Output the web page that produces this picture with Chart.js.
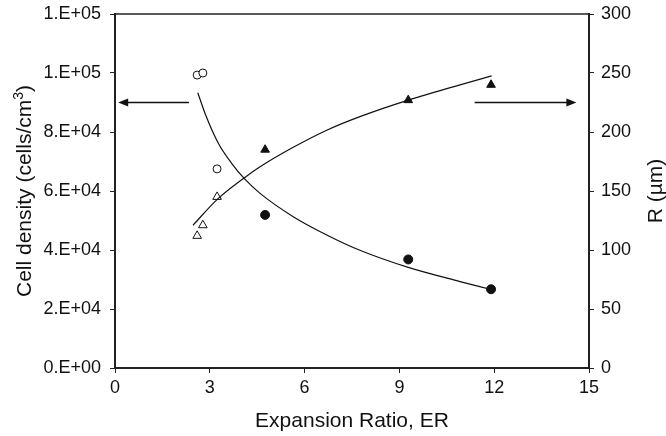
<!DOCTYPE html>
<html>
<head>
<meta charset="utf-8">
<script src="https://cdn.jsdelivr.net/npm/chart.js@4.4.0/dist/chart.umd.min.js"></script>
<style>
  html, body { margin: 0; padding: 0; background: #fff; }
  #wrap { width: 666px; height: 436px; }
</style>
</head>
<body>
<div id="wrap"><canvas id="erChart" width="666" height="436"></canvas></div>
<script>
// Expansion ratio (x) for the measured points
const erSmall = [2.6, 2.78, 3.23];
const erLarge = [4.75, 9.28, 11.9];

// Cell density (cells/cm3), left axis
const densitySmall = [99300, 100000, 67500];
const densityLarge = [51900, 36800, 26700];

// R (um), right axis
const radiusSmall = [112, 121, 145];
const radiusLarge = [185, 227, 240];

// trend curves
const densityFitEr = [2.62, 2.85, 3.27, 3.69, 4.11, 4.59, 5.64, 6.70, 7.75, 9.28, 10.92, 11.9];
const densityFit = [93300, 86300, 76200, 69400, 64000, 59200, 51300, 45100, 39900, 34100, 29300, 26600];
const radiusFitEr = [2.47, 3.22, 4.11, 4.59, 5.64, 6.70, 7.75, 9.28, 10.92, 11.92];
const radiusFit = [121, 142.5, 161.5, 170.5, 187, 201.5, 213, 227, 240, 247.5];

// tick labels
const xTickLabels = ["0", "3", "6", "9", "12", "15"];
const leftTickLabels = ["0.E+00", "2.E+04", "4.E+04", "6.E+04", "8.E+04", "1.E+05", "1.E+05"];
const rightTickLabels = ["0", "50", "100", "150", "200", "250", "300"];

const pairs = (xs, ys) => xs.map((x, i) => ({ x: x, y: ys[i] }));

const INK = "#111";
const AXIS = "#222";
const FAMILY = "'Liberation Sans', Arial, sans-serif";
const TICK_FONT = { family: FAMILY, size: 18 };
const TITLE_FONT = "21px " + FAMILY;
const SUP_FONT = "14px " + FAMILY;

// arrows pointing at the axis each series belongs to (data units)
const arrows = [
    { axis: "y", from: 2.34, to: 0.1, level: 90000 },
    { axis: "y1", from: 11.38, to: 14.6, level: 225 },
];

const decorPlugin = {
    id: "decor",
    afterDraw(chart) {
        const { ctx, chartArea, scales } = chart;
        ctx.save();

        // top frame line
        ctx.strokeStyle = AXIS;
        ctx.lineWidth = 1.5;
        ctx.beginPath();
        ctx.moveTo(chartArea.left, chartArea.top);
        ctx.lineTo(chartArea.right, chartArea.top);
        ctx.stroke();

        // arrows
        ctx.strokeStyle = INK;
        ctx.fillStyle = INK;
        ctx.lineWidth = 1.5;
        arrows.forEach(a => {
            const x0 = scales.x.getPixelForValue(a.from);
            const x1 = scales.x.getPixelForValue(a.to);
            const y = scales[a.axis].getPixelForValue(a.level);
            const dir = Math.sign(x1 - x0);
            ctx.beginPath();
            ctx.moveTo(x0, y);
            ctx.lineTo(x1 - dir * 8, y);
            ctx.stroke();
            ctx.beginPath();
            ctx.moveTo(x1, y);
            ctx.lineTo(x1 - dir * 10, y - 4);
            ctx.lineTo(x1 - dir * 10, y + 4);
            ctx.closePath();
            ctx.fill();
        });

        // axis titles
        ctx.fillStyle = INK;
        ctx.font = TITLE_FONT;
        ctx.textAlign = "center";
        ctx.textBaseline = "alphabetic";
        ctx.fillText("Expansion Ratio, ER", (chartArea.left + chartArea.right) / 2, 427);

        const midY = (chartArea.top + chartArea.bottom) / 2;

        // left title with superscript 3
        const main = "Cell density (cells/cm";
        ctx.font = TITLE_FONT;
        const wMain = ctx.measureText(main).width;
        const wClose = ctx.measureText(")").width;
        ctx.font = SUP_FONT;
        const wSup = ctx.measureText("3").width;
        const total = wMain + wSup + wClose;
        ctx.save();
        ctx.translate(31, midY);
        ctx.rotate(-Math.PI / 2);
        ctx.textAlign = "left";
        let sx = -total / 2;
        ctx.font = TITLE_FONT;
        ctx.fillText(main, sx, 0);
        sx += wMain;
        ctx.font = SUP_FONT;
        ctx.fillText("3", sx, -8);
        sx += wSup;
        ctx.font = TITLE_FONT;
        ctx.fillText(")", sx, 0);
        ctx.restore();

        // right title
        ctx.save();
        ctx.font = TITLE_FONT;
        ctx.translate(662, midY);
        ctx.rotate(-Math.PI / 2);
        ctx.textAlign = "center";
        ctx.fillText("R (\u00b5m)", 0, 0);
        ctx.restore();

        ctx.restore();
    }
};

const axisCommon = {
    border: { color: AXIS, width: 2 },
    grid: { drawOnChartArea: false, drawTicks: true, tickLength: 5, tickColor: AXIS, tickWidth: 1 },
};

// fixed axis band sizes, no extra edge padding from the labels
const fitY = w => s => { s.width = w; s.paddingTop = 0; s.paddingBottom = 0; };

new Chart(document.getElementById("erChart"), {
    type: "scatter",
    data: {
        datasets: [
            {
                data: pairs(densityFitEr, densityFit),
                yAxisID: "y",
                showLine: true,
                borderColor: INK,
                borderWidth: 1.2,
                pointRadius: 0,
                cubicInterpolationMode: "monotone",
            },
            {
                data: pairs(radiusFitEr, radiusFit),
                yAxisID: "y1",
                showLine: true,
                borderColor: INK,
                borderWidth: 1.2,
                pointRadius: 0,
                cubicInterpolationMode: "monotone",
            },
            {
                data: pairs(erSmall, densitySmall),
                yAxisID: "y",
                pointStyle: "circle",
                pointRadius: 4,
                backgroundColor: "#fff",
                borderColor: INK,
                borderWidth: 1,
            },
            {
                data: pairs(erLarge, densityLarge),
                yAxisID: "y",
                pointStyle: "circle",
                pointRadius: 4.5,
                backgroundColor: INK,
                borderColor: INK,
                borderWidth: 1,
            },
            {
                data: pairs(erSmall, radiusSmall),
                yAxisID: "y1",
                pointStyle: "triangle",
                pointRadius: 5,
                backgroundColor: "#fff",
                borderColor: INK,
                borderWidth: 1,
            },
            {
                data: pairs(erLarge, radiusLarge),
                yAxisID: "y1",
                pointStyle: "triangle",
                pointRadius: 5,
                backgroundColor: INK,
                borderColor: INK,
                borderWidth: 1,
            },
        ],
    },
    options: {
        responsive: false,
        animation: false,
        layout: { padding: { top: 14, left: 0, right: 0, bottom: 0 } },
        plugins: { legend: { display: false }, tooltip: { enabled: false } },
        scales: {
            x: {
                ...axisCommon,
                type: "linear",
                position: "bottom",
                min: 0,
                max: 15,
                ticks: {
                    stepSize: 3,
                    color: INK,
                    font: TICK_FONT,
                    padding: 4,
                    maxRotation: 0,
                    callback: (v, i) => xTickLabels[i],
                },
                afterFit: s => { s.height = 68; },
            },
            y: {
                ...axisCommon,
                type: "linear",
                position: "left",
                min: 0,
                max: 120000,
                ticks: {
                    stepSize: 20000,
                    color: INK,
                    font: TICK_FONT,
                    padding: 9,
                    callback: (v, i) => leftTickLabels[i],
                },
                afterFit: fitY(115),
            },
            y1: {
                ...axisCommon,
                type: "linear",
                position: "right",
                min: 0,
                max: 300,
                ticks: {
                    stepSize: 50,
                    color: INK,
                    font: TICK_FONT,
                    padding: 7,
                    callback: (v, i) => rightTickLabels[i],
                },
                afterFit: fitY(77),
            },
        },
    },
    plugins: [decorPlugin],
});
</script>
</body>
</html>
